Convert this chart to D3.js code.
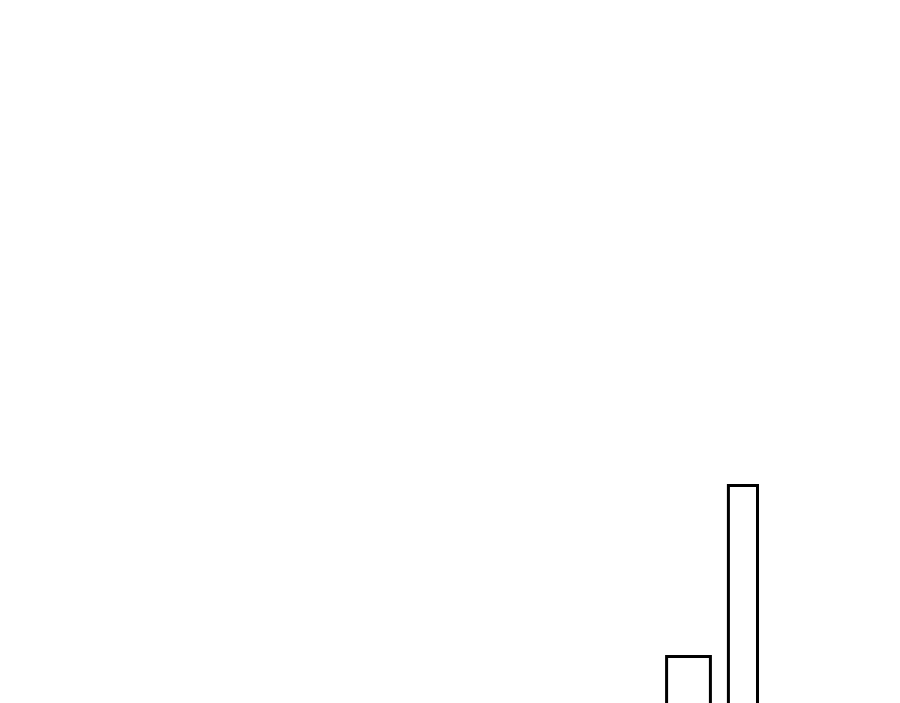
<!DOCTYPE html>
<html><head><meta charset="utf-8">
<script src="https://cdn.jsdelivr.net/npm/d3@7"></script>
<style>html,body{margin:0;padding:0;background:#fff;overflow:hidden}</style>
</head><body>
<svg id="chart" width="900" height="703"></svg>
<script>
const categories = ["A", "B"];
const binStart = [22.22, 24.28];
const binEnd = [23.68, 25.25];
const values = [37.7, 100];

const svg = d3.select("#chart");
svg.append("rect").attr("width", 900).attr("height", 703).attr("fill", "#fff");

const x = d3.scaleLinear().domain([0, 30]).range([0, 900]);
const y = d3.scaleLinear().domain([0, 100]).range([760, 485.5]);

const data = categories.map((c, i) => ({c, x0: binStart[i], x1: binEnd[i], v: values[i]}));

svg.selectAll("rect.bar").data(data).join("rect")
  .attr("class", "bar")
  .attr("x", d => x(d.x0))
  .attr("width", d => x(d.x1) - x(d.x0))
  .attr("y", d => y(d.v))
  .attr("height", d => y(0) - y(d.v))
  .attr("fill", "#fff")
  .attr("stroke", "#000")
  .attr("stroke-width", 3);
</script>
</body></html>
